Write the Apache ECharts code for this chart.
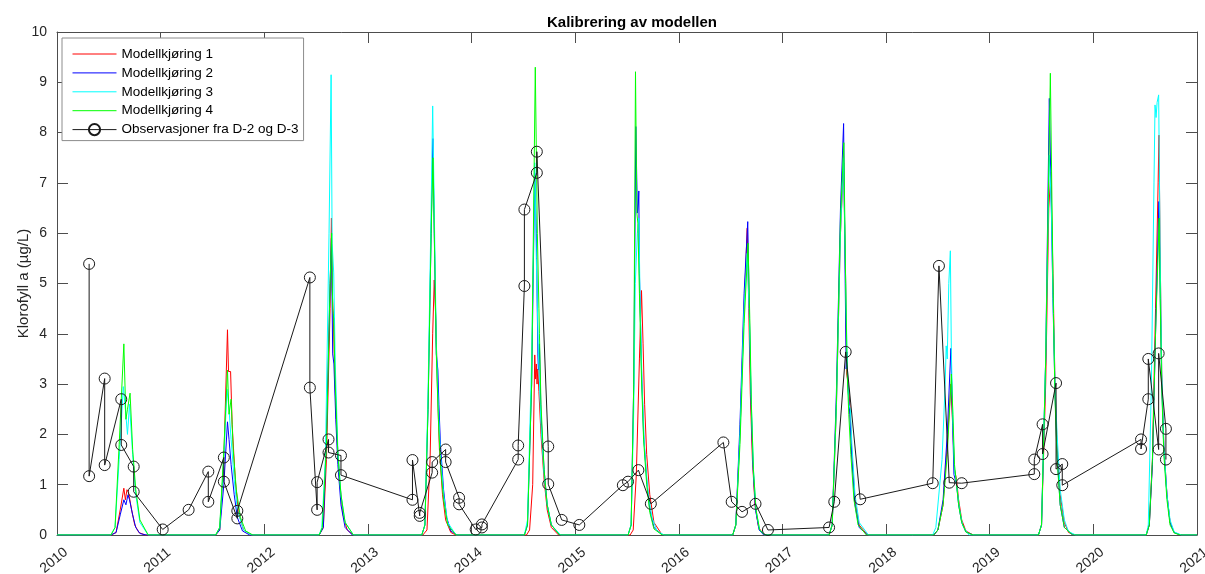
<!DOCTYPE html>
<html>
<head>
<meta charset="utf-8">
<script src="https://cdn.jsdelivr.net/npm/echarts@6/dist/echarts.min.js"></script>
<style>
html,body{margin:0;padding:0;background:#fff;}
#chart{width:1205px;height:574px;}
</style>
</head>
<body>
<div id="chart"></div>
<script>
// x values are decimal years
const seriesNames = ['Modellkjøring 1','Modellkjøring 2','Modellkjøring 3','Modellkjøring 4','Observasjoner fra D-2 og D-3'];
const xTicks = [2010,2011,2012,2013,2014,2015,2016,2017,2018,2019,2020,2021];

const run1 = [
[2010.00,0],
[2010.52,0],[2010.57,0.05],[2010.61,0.5],[2010.645,0.93],[2010.66,0.7],[2010.675,0.9],[2010.69,0.85],[2010.72,0.5],[2010.75,0.2],[2010.79,0.05],[2010.85,0],
[2011.53,0],[2011.57,0.1],[2011.61,1.5],[2011.645,4.08],[2011.655,3.25],[2011.675,3.25],[2011.69,2.2],[2011.72,1.1],[2011.75,0.45],[2011.80,0.1],[2011.88,0],
[2012.53,0],[2012.57,0.15],[2012.60,1.5],[2012.635,4.5],[2012.648,6.3],[2012.655,4.9],[2012.665,4.4],[2012.68,3.2],[2012.70,2.0],[2012.73,1.0],[2012.76,0.4],[2012.80,0.1],[2012.86,0],
[2013.53,0],[2013.57,0.1],[2013.60,1.5],[2013.625,4.0],[2013.64,5.07],[2013.655,4.3],[2013.67,3.0],[2013.69,1.7],[2013.72,0.8],[2013.75,0.3],[2013.80,0.05],[2013.85,0],
[2014.53,0],[2014.56,0.1],[2014.59,1.0],[2014.61,3.58],[2014.618,3.1],[2014.625,3.4],[2014.632,3.0],[2014.64,3.3],[2014.65,2.85],[2014.67,2.0],[2014.70,1.1],[2014.73,0.5],[2014.77,0.15],[2014.84,0],
[2015.53,0],[2015.56,0.1],[2015.59,1.2],[2015.62,3.5],[2015.64,4.86],[2015.655,3.8],[2015.67,2.6],[2015.69,1.6],[2015.72,0.8],[2015.76,0.25],[2015.84,0],
[2016.52,0],[2016.55,0.2],[2016.59,2.0],[2016.63,4.5],[2016.66,6.1],[2016.675,4.5],[2016.69,2.8],[2016.71,1.5],[2016.735,0.6],[2016.77,0.15],[2016.82,0],
[2017.45,0],[2017.48,0.2],[2017.52,2.5],[2017.56,6.0],[2017.59,7.4],[2017.61,5.0],[2017.62,3.2],[2017.635,3.0],[2017.65,2.6],[2017.67,1.6],[2017.70,0.7],[2017.74,0.2],[2017.82,0],
[2018.46,0],[2018.50,0.1],[2018.55,0.6],[2018.59,1.8],[2018.625,3.0],[2018.64,2.3],[2018.66,1.3],[2018.68,1.1],[2018.70,0.7],[2018.73,0.3],[2018.77,0.08],[2018.84,0],
[2019.47,0],[2019.50,0.2],[2019.54,3.0],[2019.57,6.5],[2019.59,7.22],[2019.61,5.2],[2019.63,3.0],[2019.65,1.8],[2019.68,0.8],[2019.72,0.25],[2019.76,0.05],[2019.82,0],
[2020.51,0],[2020.54,0.2],[2020.57,1.5],[2020.60,4.5],[2020.625,7.0],[2020.633,7.95],[2020.645,5.5],[2020.66,3.2],[2020.68,1.8],[2020.71,0.8],[2020.74,0.25],[2020.78,0.05],[2020.84,0],
[2021.00,0]
];

const run2 = [
[2010.00,0],
[2010.52,0],[2010.57,0.05],[2010.61,0.4],[2010.645,0.7],[2010.665,0.6],[2010.685,0.8],[2010.70,0.7],[2010.73,0.4],[2010.76,0.15],[2010.80,0.03],[2010.86,0],
[2011.53,0],[2011.57,0.1],[2011.61,1.0],[2011.645,2.25],[2011.66,1.9],[2011.68,1.4],[2011.71,0.8],[2011.74,0.35],[2011.79,0.08],[2011.86,0],
[2012.53,0],[2012.57,0.15],[2012.60,2.0],[2012.635,5.0],[2012.648,5.9],[2012.66,3.6],[2012.672,3.4],[2012.69,2.3],[2012.71,1.4],[2012.74,0.6],[2012.78,0.15],[2012.85,0],
[2013.52,0],[2013.55,0.2],[2013.58,2.5],[2013.61,6.0],[2013.627,7.88],[2013.64,6.0],[2013.66,3.6],[2013.675,3.28],[2013.685,2.6],[2013.70,1.8],[2013.73,0.9],[2013.76,0.35],[2013.80,0.08],[2013.86,0],
[2014.51,0],[2014.54,0.2],[2014.58,3.0],[2014.61,7.2],[2014.625,6.0],[2014.64,3.6],[2014.645,3.28],[2014.655,3.8],[2014.67,2.4],[2014.70,1.3],[2014.73,0.6],[2014.77,0.2],[2014.85,0],
[2015.51,0],[2015.54,0.2],[2015.565,3.0],[2015.585,8.12],[2015.60,6.4],[2015.61,6.6],[2015.614,6.84],[2015.62,5.2],[2015.64,3.3],[2015.66,2.0],[2015.69,1.1],[2015.72,0.5],[2015.76,0.15],[2015.84,0],
[2016.52,0],[2016.55,0.2],[2016.59,2.2],[2016.63,4.8],[2016.665,6.23],[2016.68,4.5],[2016.695,2.8],[2016.715,1.4],[2016.74,0.5],[2016.775,0.1],[2016.82,0],
[2017.45,0],[2017.48,0.2],[2017.52,2.8],[2017.56,6.5],[2017.59,8.18],[2017.60,6.0],[2017.615,3.3],[2017.622,3.64],[2017.63,3.0],[2017.65,2.4],[2017.67,1.5],[2017.70,0.6],[2017.74,0.15],[2017.82,0],
[2018.46,0],[2018.50,0.1],[2018.55,0.7],[2018.59,2.0],[2018.625,3.71],[2018.64,2.4],[2018.655,1.2],[2018.665,1.2],[2018.68,1.0],[2018.70,0.6],[2018.73,0.25],[2018.77,0.06],[2018.84,0],
[2019.47,0],[2019.50,0.2],[2019.54,3.5],[2019.575,8.68],[2019.59,7.0],[2019.61,4.7],[2019.63,2.8],[2019.65,1.6],[2019.68,0.6],[2019.72,0.15],[2019.80,0],
[2020.51,0],[2020.54,0.2],[2020.57,1.4],[2020.60,4.0],[2020.633,6.63],[2020.645,4.8],[2020.66,3.0],[2020.68,1.7],[2020.71,0.8],[2020.74,0.25],[2020.78,0.05],[2020.84,0],
[2021.00,0]
];

const run3 = [
[2010.00,0],
[2010.52,0],[2010.56,0.15],[2010.60,1.5],[2010.64,2.95],[2010.66,2.5],[2010.68,2.0],[2010.70,2.6],[2010.73,1.6],[2010.76,0.8],[2010.80,0.25],[2010.88,0],
[2011.53,0],[2011.57,0.15],[2011.61,1.5],[2011.64,2.9],[2011.66,2.5],[2011.68,1.9],[2011.71,1.1],[2011.74,0.5],[2011.80,0.1],[2011.88,0],
[2012.53,0],[2012.555,0.15],[2012.59,1.5],[2012.625,6.0],[2012.645,9.15],[2012.655,5.8],[2012.67,5.21],[2012.685,3.4],[2012.71,1.7],[2012.74,0.8],[2012.78,0.25],[2012.86,0],
[2013.52,0],[2013.55,0.2],[2013.58,2.8],[2013.61,6.5],[2013.625,8.53],[2013.64,6.5],[2013.66,3.8],[2013.68,2.5],[2013.70,1.6],[2013.73,0.8],[2013.77,0.25],[2013.85,0],
[2014.51,0],[2014.54,0.3],[2014.58,3.5],[2014.61,7.4],[2014.625,5.5],[2014.645,3.6],[2014.67,2.2],[2014.70,1.2],[2014.73,0.6],[2014.77,0.2],[2014.86,0],
[2015.51,0],[2015.54,0.2],[2015.565,2.5],[2015.58,5.0],[2015.60,6.0],[2015.615,6.3],[2015.625,4.8],[2015.645,3.0],[2015.67,1.7],[2015.70,0.9],[2015.74,0.35],[2015.79,0.08],[2015.86,0],
[2016.52,0],[2016.55,0.2],[2016.59,2.0],[2016.63,4.5],[2016.66,5.6],[2016.68,4.4],[2016.70,2.6],[2016.72,1.3],[2016.745,0.5],[2016.78,0.1],[2016.83,0],
[2017.45,0],[2017.48,0.2],[2017.52,2.5],[2017.56,6.0],[2017.59,7.5],[2017.61,5.0],[2017.625,3.4],[2017.64,2.6],[2017.655,2.5],[2017.67,1.8],[2017.70,0.8],[2017.74,0.25],[2017.83,0],
[2018.45,0],[2018.48,0.15],[2018.54,1.5],[2018.57,3.0],[2018.58,3.76],[2018.59,3.5],[2018.605,5.0],[2018.62,5.65],[2018.63,3.6],[2018.645,2.2],[2018.66,1.3],[2018.68,1.0],[2018.71,0.5],[2018.74,0.18],[2018.80,0],
[2019.47,0],[2019.50,0.2],[2019.54,3.5],[2019.575,7.55],[2019.595,6.5],[2019.61,4.8],[2019.63,3.0],[2019.65,2.0],[2019.68,0.9],[2019.72,0.3],[2019.76,0.07],[2019.83,0],
[2020.51,0],[2020.53,0.2],[2020.56,3.0],[2020.585,7.0],[2020.595,8.55],[2020.605,8.3],[2020.615,8.6],[2020.63,8.75],[2020.645,5.5],[2020.66,3.2],[2020.68,1.8],[2020.71,0.8],[2020.74,0.3],[2020.78,0.06],[2020.85,0],
[2021.00,0]
];

const run4 = [
[2010.00,0],
[2010.52,0],[2010.56,0.15],[2010.60,1.8],[2010.645,3.80],[2010.665,2.3],[2010.68,2.5],[2010.705,2.82],[2010.73,1.7],[2010.76,0.9],[2010.80,0.3],[2010.88,0],
[2011.53,0],[2011.57,0.15],[2011.61,1.7],[2011.645,3.28],[2011.66,2.4],[2011.68,2.7],[2011.70,1.7],[2011.73,0.9],[2011.77,0.35],[2011.82,0.08],[2011.89,0],
[2012.53,0],[2012.56,0.15],[2012.60,1.8],[2012.635,5.0],[2012.65,6.0],[2012.66,4.5],[2012.67,4.3],[2012.685,3.0],[2012.71,1.6],[2012.74,0.8],[2012.78,0.25],[2012.86,0],
[2013.52,0],[2013.55,0.2],[2013.58,2.5],[2013.61,6.0],[2013.628,7.5],[2013.645,5.5],[2013.66,3.6],[2013.68,2.3],[2013.70,1.4],[2013.73,0.7],[2013.77,0.2],[2013.85,0],
[2014.51,0],[2014.54,0.2],[2014.58,3.0],[2014.615,9.3],[2014.635,6.0],[2014.65,4.51],[2014.655,4.0],[2014.67,2.6],[2014.70,1.3],[2014.73,0.6],[2014.77,0.2],[2014.85,0],
[2015.51,0],[2015.54,0.2],[2015.565,3.0],[2015.582,9.21],[2015.595,6.4],[2015.605,6.2],[2015.62,4.8],[2015.64,3.1],[2015.66,1.9],[2015.69,1.0],[2015.72,0.45],[2015.76,0.12],[2015.84,0],
[2016.52,0],[2016.55,0.2],[2016.59,1.8],[2016.63,4.2],[2016.668,5.8],[2016.685,4.3],[2016.70,2.6],[2016.72,1.3],[2016.745,0.5],[2016.78,0.1],[2016.83,0],
[2017.45,0],[2017.48,0.2],[2017.52,2.6],[2017.56,6.3],[2017.592,7.8],[2017.61,5.0],[2017.625,3.2],[2017.64,2.4],[2017.66,1.6],[2017.69,0.7],[2017.73,0.2],[2017.81,0],
[2018.46,0],[2018.50,0.1],[2018.55,0.6],[2018.59,1.6],[2018.63,3.2],[2018.645,2.4],[2018.66,1.4],[2018.68,1.0],[2018.70,0.6],[2018.73,0.25],[2018.77,0.06],[2018.84,0],
[2019.47,0],[2019.50,0.2],[2019.54,3.5],[2019.585,9.18],[2019.60,6.7],[2019.615,4.4],[2019.63,2.7],[2019.65,1.5],[2019.68,0.6],[2019.72,0.15],[2019.80,0],
[2020.51,0],[2020.54,0.2],[2020.57,1.5],[2020.60,4.0],[2020.635,6.3],[2020.645,4.7],[2020.66,2.9],[2020.68,1.6],[2020.71,0.7],[2020.74,0.2],[2020.78,0.04],[2020.84,0],
[2021.00,0]
];

const observations = [
[2010.31,5.39],[2010.31,1.17],
[2010.46,3.11],[2010.46,1.39],
[2010.62,2.70],[2010.62,1.79],
[2010.74,1.36],[2010.74,0.86],
[2011.02,0.11],
[2011.27,0.50],
[2011.46,1.26],[2011.46,0.66],
[2011.61,1.54],[2011.61,1.06],
[2011.74,0.33],[2011.74,0.48],
[2012.44,5.12],[2012.44,2.93],
[2012.51,0.50],[2012.51,1.05],
[2012.62,1.90],[2012.62,1.64],
[2012.74,1.58],[2012.74,1.19],
[2013.43,0.70],[2013.43,1.49],
[2013.50,0.38],[2013.50,0.44],
[2013.62,1.24],[2013.62,1.45],
[2013.75,1.70],[2013.75,1.45],
[2013.88,0.74],[2013.88,0.61],
[2014.04,0.11],
[2014.10,0.15],[2014.10,0.21],
[2014.45,1.50],[2014.45,1.78],
[2014.51,4.95],[2014.51,6.47],
[2014.63,7.20],[2014.63,7.62],
[2014.74,1.76],[2014.74,1.01],
[2014.87,0.30],
[2015.04,0.20],
[2015.46,0.99],
[2015.51,1.06],
[2015.61,1.29],
[2015.73,0.62],
[2016.43,1.84],
[2016.51,0.66],
[2016.61,0.46],
[2016.74,0.62],
[2016.86,0.10],
[2017.45,0.15],
[2017.50,0.66],
[2017.61,3.64],
[2017.75,0.71],
[2018.45,1.03],
[2018.51,5.35],
[2018.61,1.04],
[2018.73,1.03],
[2019.43,1.21],[2019.43,1.50],
[2019.51,2.20],[2019.51,1.61],
[2019.64,3.02],[2019.64,1.31],
[2019.70,1.41],[2019.70,0.99],
[2020.46,1.90],[2020.46,1.71],
[2020.53,2.70],[2020.53,3.50],
[2020.63,1.70],[2020.63,3.61],
[2020.70,2.11],[2020.70,1.50]
];

const modelColors = ['#ff0000','#0000ff','#00ffff','#00ff00'];
const FONT = '"Liberation Sans", Arial, sans-serif';
const TXT = '#262626';
const AX = '#4d4d4d';

const chart = echarts.init(document.getElementById('chart'), null, {renderer:'canvas'});

const baseX = {
  type:'value', min:2010, max:2021, interval:1,
  splitLine:{show:false},
  axisLine:{show:true, onZero:false, lineStyle:{color:AX, width:1}},
  axisTick:{show:true, inside:true, length:11, lineStyle:{color:AX}},
};
const baseY = {
  type:'value', min:0, max:10, interval:1,
  splitLine:{show:false},
  axisLine:{show:true, lineStyle:{color:AX, width:1}},
  axisTick:{show:true, inside:true, length:11, lineStyle:{color:AX}},
};

const modelData = [run1, run2, run3, run4];
const series = modelData.map((d,i)=>({
  name: seriesNames[i], type:'line', data:d, xAxisIndex:0, yAxisIndex:0,
  symbol:'none', showSymbol:false, smooth:false,
  lineStyle:{color:modelColors[i], width:1},
  itemStyle:{color:modelColors[i]},
  z: 2+i, silent:true, animation:false
}));
series.push({
  name: seriesNames[4], type:'line', data:observations, xAxisIndex:0, yAxisIndex:0,
  symbol:'circle', symbolSize:11, showSymbol:true,
  lineStyle:{color:'#1a1a1a', width:1},
  itemStyle:{color:'rgba(255,255,255,0)', borderColor:'#1a1a1a', borderWidth:1},
  z: 10, silent:true, animation:false
});

const legendData = seriesNames.map((n,i)=> i<4
  ? {name:n, itemStyle:{opacity:0}}
  : {name:n});

chart.setOption({
  animation:false,
  backgroundColor:'#ffffff',
  title:{
    text:'Kalibrering av modellen', left:627, top:10, textAlign:'center',
    textStyle:{fontFamily:FONT, fontSize:15, fontWeight:'bold', color:'#000'}
  },
  legend:{
    orient:'vertical', left:62, top:38,
    data: legendData,
    itemWidth:44, itemHeight:14, itemGap:4.9,
    padding:[9,5,4,10],
    borderColor:'#8c8c8c', borderWidth:1, backgroundColor:'#fff',
    lineStyle:{width:1},
    textStyle:{fontFamily:FONT, fontSize:13.5, lineHeight:14, color:'#000'},
    selectedMode:false
  },
  grid:{left:57, right:8, top:32, bottom:39, containLabel:false, outerBoundsMode:'none'},
  xAxis:[
    Object.assign({}, baseX, {
      position:'bottom',
      axisLabel:{show:true, rotate:40, margin:23, align:'center', verticalAlign:'middle',
                 padding:[0,8,0,0],
                 fontFamily:FONT, fontSize:14, color:TXT,
                 formatter:v=>String(v)}
    }),
    Object.assign({}, baseX, {
      position:'top', axisLabel:{show:false}
    })
  ],
  yAxis:[
    Object.assign({}, baseY, {
      position:'left',
      name:'Klorofyll a (µg/L)', nameLocation:'middle', nameGap:26, nameMoveOverlap:false,
      nameTextStyle:{fontFamily:FONT, fontSize:15, color:TXT},
      axisLabel:{show:true, margin:10, fontFamily:FONT, fontSize:14, color:TXT}
    }),
    Object.assign({}, baseY, {
      position:'right', axisLabel:{show:false}
    })
  ],
  series: series
});
</script>
</body>
</html>
